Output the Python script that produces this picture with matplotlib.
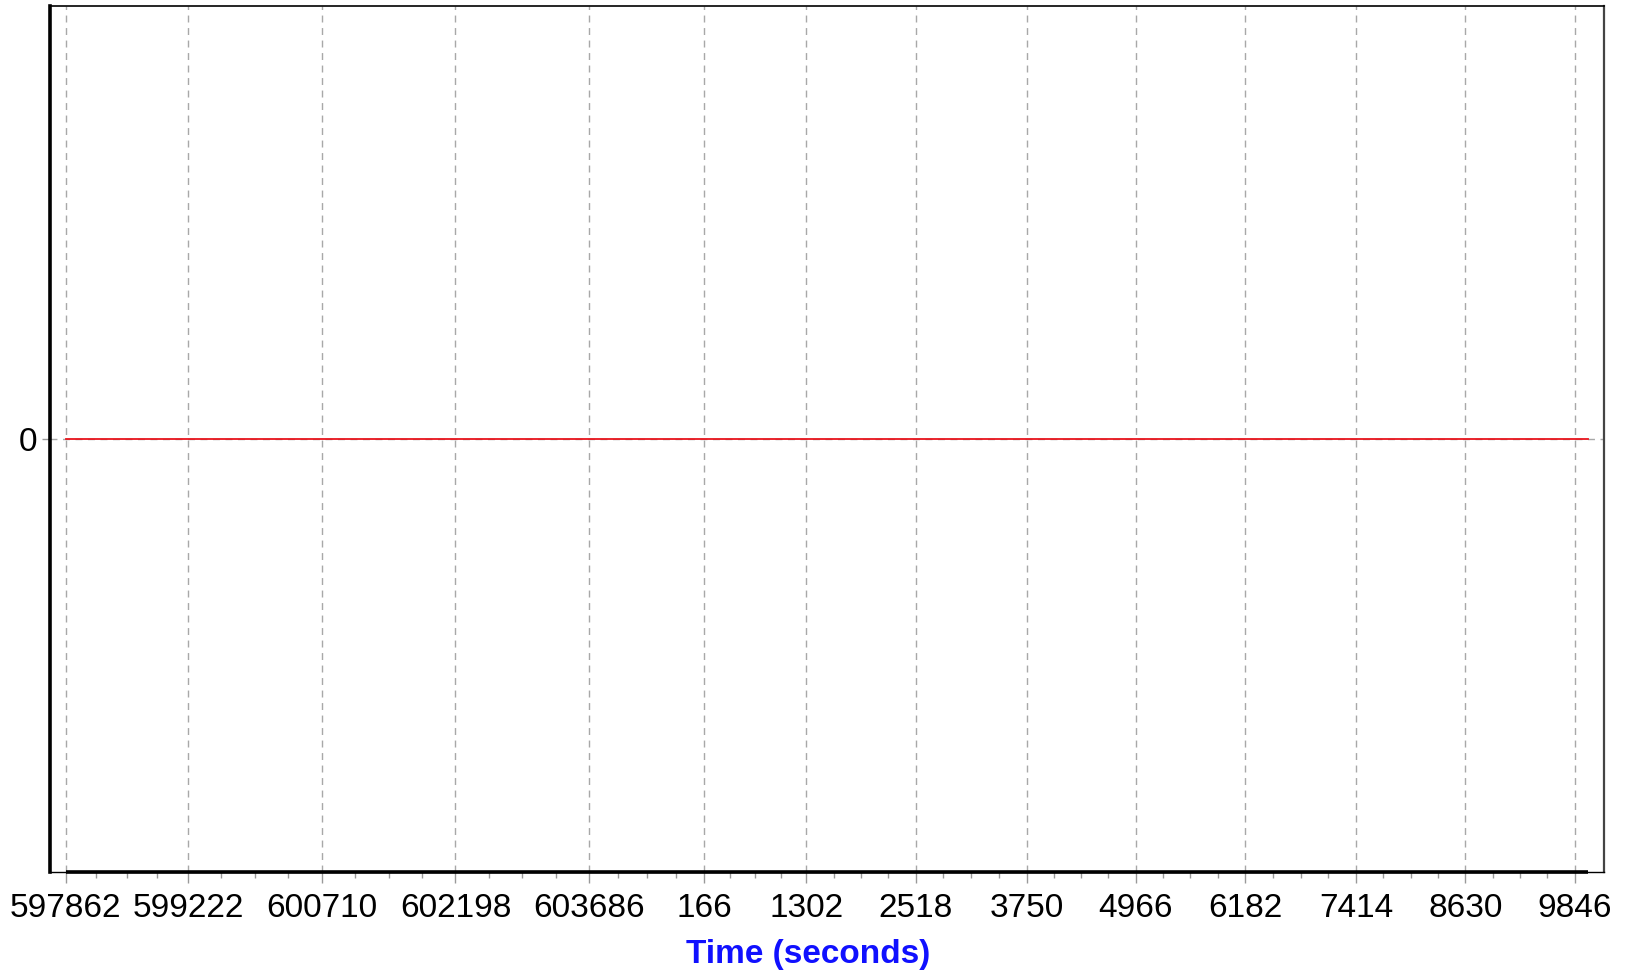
import numpy as np
import matplotlib
matplotlib.use("Agg")
import matplotlib.pyplot as plt
from matplotlib.ticker import FixedLocator, FuncFormatter

# seconds of week, the week rolls over at 604800
WEEK = 604800
time_sow = [597862, 599222, 600710, 602198, 603686, 604966, 606102, 607318,
            608550, 609766, 610982, 612214, 613430, 614646, 614796]
value = [0, 0, 0, 0, 0, 0, 0, 0, 0, 0, 0, 0, 0, 0, 0]
tick_sow = [597862, 599222, 600710, 602198, 603686, 604966, 606102, 607318,
            608550, 609766, 610982, 612214, 613430, 614646]

plt.rcParams['font.family'] = ['Liberation Sans', 'DejaVu Sans']

fig = plt.figure(figsize=(16.36, 9.75), dpi=100)
ax = fig.add_axes([0.03056, 0.10564, 0.94988, 0.88821])

ax.plot(time_sow, value, color='#e8141c', lw=1.3, zorder=3)

span = time_sow[-1] - time_sow[0]
ax.set_xlim(time_sow[0] - 0.0103 * span, time_sow[-1] + 0.0105 * span)
ax.set_ylim(-1, 1)

# major + minor ticks (4 sub intervals)
minors = []
for a, b in zip(tick_sow[:-1], tick_sow[1:]):
    for j in range(1, 4):
        minors.append(a + (b - a) * j / 4.0)
ax.xaxis.set_major_locator(FixedLocator(tick_sow))
ax.xaxis.set_minor_locator(FixedLocator(minors))
ax.xaxis.set_major_formatter(FuncFormatter(lambda v, p: '%d' % (int(round(v)) % WEEK)))
ax.set_yticks([0])
ax.set_yticklabels(['0'])

ax.tick_params(axis='x', which='major', length=8, width=1, color='#999999',
               labelsize=24, pad=7)
ax.tick_params(axis='x', which='minor', length=4, width=1, color='#999999')
ax.tick_params(axis='y', which='major', length=6, width=1, color='#999999',
               labelsize=24, pad=3)

ax.grid(True, which='major', color='#a8a8a8', ls=(0, (5, 4)), lw=1.0, zorder=1)

# spines
ax.spines['left'].set_linewidth(2.6)
ax.spines['left'].set_color('black')
ax.spines['top'].set_linewidth(1.2)
ax.spines['right'].set_linewidth(1.6)
ax.spines['right'].set_color('#444444')
ax.spines['bottom'].set_linewidth(1.0)
# thick axis line only over the data range
ax.plot([time_sow[0], time_sow[-1]], [-1, -1], color='black', lw=2.6,
        clip_on=False, zorder=4, solid_capstyle='butt')

fig.text(808.6 / 1636, 1 - 955 / 975.0, 'Time (seconds)', color='#1010ff',
         fontsize=24, fontweight='bold', ha='center', va='center')

fig.savefig('out.png', dpi=100)
